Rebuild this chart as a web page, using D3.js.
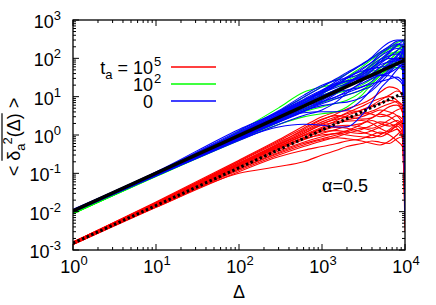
<!DOCTYPE html>
<html lang="en">
<head>
<meta charset="UTF-8">
<title>MSD ensemble</title>
<script src="https://cdnjs.cloudflare.com/ajax/libs/d3/7.8.5/d3.min.js"></script>
<style>
  body { margin: 0; background: #fff; }
  text { font-family: "Liberation Sans", Arial, sans-serif; fill: #000; }
</style>
</head>
<body>
<div id="chart"></div>
<script>
// lag times where each trajectory was sampled
var delta = [1, 10, 100, 300, 600, 1000, 1500, 2000, 3000, 4000, 5000, 6500, 8000, 9300, 10000];

// t_a = 10^5
var redRuns = [
  [.0016, .017, .2, .65, 1.3, 2.2, 3.0, 3.6, 4.5, 5.5, 6.8, 8, 7, 4, .2],
  [.0015, .016, .18, .55, 1.1, 1.8, 2.2, 2.5, 3.0, 3.8, 4.5, 4.0, 3.2, 2.0, .02],
  [.0015, .015, .15, .42, .75, 1.1, 1.4, 1.7, 2.0, 2.4, 2.0, 1.7, 1.9, 1.5, .005],
  [.0014, .014, .13, .35, .6, .8, 1.0, 1.2, 1.5, 1.3, 1.1, 1.3, 1.7, 1.2, .05],
  [.0016, .018, .22, .75, 1.7, 3.0, 4.0, 4.3, 4.0, 3.5, 3.0, 3.4, 4.5, 5, 1.5],
  [.0014, .013, .11, .27, .4, .5, .6, .7, .8, 1.0, 1.2, 1.0, .7, .5, .01],
  [.0015, .015, .16, .5, 1.0, 1.6, 2.4, 3.2, 4.5, 6, 8, 11, 14, 12, 4],
  [.0015, .015, .14, .38, .65, .9, 1.1, 1.0, .9, .85, 1.0, 1.4, 2.0, 2.4, .3],
  [.0014, .013, .1, .15, .2, .3, .4, .5, .6, .7, .65, .6, .8, .9, .01],
  [.0016, .017, .19, .6, 1.4, 2.5, 3.6, 4.8, 6.5, 9, 13, 18, 16, 10, .8],
  [.0015, .015, .17, .52, .95, 1.4, 1.7, 1.8, 1.6, 1.5, 1.8, 2.5, 3.2, 2.6, .1],
  [.0014, .014, .12, .3, .5, .7, .9, 1.1, 1.4, 1.8, 2.2, 2.0, 1.5, .8, .003],
  [.0016, .016, .18, .58, 1.2, 2.0, 2.6, 2.9, 3.4, 4.2, 5.2, 6.5, 7.5, 6, .5],
  [.0015, .016, .17, .48, .85, 1.2, 1.3, 1.2, 1.1, 1.3, 1.6, 2.0, 2.4, 1.8, .04],
  [.0015, .015, .16, .46, .8, 1.0, 1.1, 1.3, 1.9, 2.8, 3.5, 3.0, 2.2, 1.6, .008],
  [.0016, .017, .21, .7, 1.5, 2.6, 3.2, 3.0, 2.6, 2.8, 3.8, 5.5, 6, 4, .3],
  [.0014, .014, .13, .33, .55, .75, .85, .8, .7, .6, .55, .7, 1.0, 1.3, .02],
  [.0015, .016, .18, .56, 1.1, 1.9, 2.8, 3.8, 5.5, 7.5, 9, 10, 8, 5, .06],
  [.0015, .015, .15, .44, .85, 1.3, 1.6, 1.5, 1.2, 1.0, .9, 1.2, 1.8, 2.2, .004],
  [.0016, .016, .17, .5, .95, 1.5, 2.0, 2.3, 2.4, 2.0, 1.5, 1.2, 1.4, 1.0, .15]
];

// t_a = 10^2
var greenRuns = [
  [.0095, .1, 1.26, 5.1, 13, 18, 21.6, 27, 43, 72, 112, 186, 259, 286, 225],
  [.009, .088, .9, 2.97, 6.5, 11.7, 20, 32.4, 59, 94, 130, 174, 202, 185, 90],
  [.0092, .084, .765, 2.16, 4.3, 8.1, 14.9, 23.4, 37.8, 46.8, 49.5, 58, 86, 126, 27],
  [.0088, .086, .855, 2.43, 4.05, 5.4, 6.75, 8.1, 13.5, 25.2, 45, 81, 130, 126, 7.2],
  [.0094, .092, .99, 3.24, 6.75, 10.8, 15.5, 22.5, 40.5, 65, 94.5, 133, 144, 134, 54],
  [.009, .083, .72, 1.89, 2.97, 3.6, 4.05, 5.4, 10.8, 21.6, 36, 52, 58, 50, 13.5],
  [.0093, .092, 1.08, 4.05, 9.7, 18, 28.4, 39.6, 67.5, 101, 144, 197, 216, 218, 162],
  [.0089, .085, .81, 2.43, 5.1, 9, 12.2, 14.4, 20, 28.8, 40.5, 58, 79, 76, 1.8],
  [.0091, .09, .95, 3, 6, 9, 13, 18, 30, 50, 80, 120, 160, 190, 120],
  [.009, .087, .85, 2.5, 4.6, 7, 9, 11, 15, 22, 35, 60, 100, 110, 30],
  [.0092, .091, 1.0, 3.4, 7.5, 13, 19, 25, 33, 40, 55, 90, 140, 160, 80]
];

// t_a = 0
var blueRuns = [
  [.0115, .109, 1.4, 4.05, 9.7, 18, 29.7, 43, 70, 108, 171, 261, 302, 302, 270],
  [.011, .104, 1.08, 3.5, 7.6, 14.4, 25.6, 39.6, 67.5, 101, 144, 209, 281, 294, 135],
  [.0105, .095, .945, 2.97, 5.4, 8.1, 13.5, 21.6, 40.5, 68, 94, 116, 130, 101, 27],
  [.01, .085, .72, 1.89, 3.24, 4.5, 7.4, 12.6, 24.3, 39.6, 58.5, 87, 101, 84, 4.5],
  [.0105, .1, 1.03, 3.4, 7.0, 10.8, 14.9, 18, 29.7, 46.8, 72, 110, 158, 210, 180],
  [.0103, .09, .81, 2.3, 3.8, 4.05, 4.05, 4.5, 8.1, 16.2, 27, 46, 72, 50, 1.8],
  [.0105, .09, .765, 1.62, 1.9, 1.8, 1.62, 1.62, 3.24, 7.2, 15.8, 29, 50, 67, 9],
  [.0107, .103, 1.3, 4.3, 10.8, 19.8, 27, 30.6, 40.5, 58, 81, 139, 216, 277, 324],
  [.0105, .095, .9, 2.57, 4.6, 7.2, 10.1, 12.6, 17.6, 21.6, 24.8, 29, 32.4, 25, .18],
  [.0108, .1, .99, 3.24, 7.0, 13.5, 23, 32.4, 46, 54, 58.5, 64, 65, 59, 36],
  [.0102, .087, .765, 2.16, 4.05, 7.2, 12.2, 18, 32.4, 50, 67.5, 81, 86, 134, 216],
  [.0105, .097, .97, 3.1, 6.75, 12.6, 20, 25.2, 32.4, 36, 36, 35, 29, 21, .9],
  [.0101, .088, .81, 2.48, 5.4, 9.9, 15.5, 19.8, 27, 32.4, 43, 64, 94, 92, 54],
  [.0109, .106, 1.17, 3.78, 8.1, 12.6, 17.6, 22.5, 36.5, 58, 90, 151, 230, 235, 108],
  [.0104, .092, .855, 2.43, 4.3, 5.85, 6.75, 7.2, 9.45, 14.4, 22.5, 41, 72, 109, 4.5],
  [.0106, .095, .855, 2.7, 5.9, 11.7, 20, 30.6, 54, 79, 112, 157, 180, 168, 72],
  [.0112, .105, 1.2, 3.9, 8.5, 15, 22, 26, 30, 34, 48, 75, 120, 160, 40],
  [.0098, .088, .8, 2.2, 4.2, 6.5, 9, 11, 15, 19, 30, 52, 90, 150, 260],
  [.011, .1, 1.1, 3.6, 8, 14, 21, 30, 50, 80, 130, 190, 240, 200, 15],
  [.0101, .091, .88, 2.6, 4.9, 7.5, 10, 14, 22, 30, 36, 42, 55, 70, .01],
  [.0107, .099, 1.05, 3.3, 6.5, 10, 13, 15, 18, 25, 40, 70, 110, 150, 120],
  [.0103, .094, .92, 2.8, 5.6, 9.5, 15, 21, 35, 55, 80, 100, 95, 60, .006]
];

// power-law fits (end points)
var fitDelta = [1, 10000];
var upperFit = [0.0105, 90];
var lowerFit = [0.0015, 13];

var xTicks = [1, 10, 100, 1000, 10000];
var xExp = ["0", "1", "2", "3", "4"];
var yTicks = [1e-3, 1e-2, 1e-1, 1, 10, 100, 1000];
var yExp = ["-3", "-2", "-1", "0", "1", "2", "3"];

var legendSup = ["5", "2", ""];
var legendBase = ["10", "10", "0"];
var legendColors = ["#ff0000", "#00ff00", "#0000ff"];

var width = 436, height = 305;
var pLeft = 73, pRight = 405, pTop = 20, pBottom = 250;

var svg = d3.select("#chart").append("svg")
  .attr("width", width)
  .attr("height", height);

var x = d3.scaleLog().domain([1, 1e4]).range([pLeft, pRight]);
var y = d3.scaleLog().domain([1e-3, 1e3]).range([pBottom, pTop]);

svg.append("clipPath").attr("id", "clip")
  .append("rect")
  .attr("x", pLeft).attr("y", pTop)
  .attr("width", pRight - pLeft).attr("height", pBottom - pTop);

var plot = svg.append("g").attr("clip-path", "url(#clip)");

var line = d3.line()
  .x(function(d) { return x(d[0]); })
  .y(function(d) { return y(d[1]); })
  .curve(d3.curveMonotoneX);

function drawRuns(runs, color) {
  plot.append("g").selectAll("path")
    .data(runs)
    .enter()
    .append("path")
    .attr("d", function(r) { return line(r.map(function(v, i) { return [delta[i], v]; })); })
    .attr("fill", "none")
    .attr("stroke", color)
    .attr("stroke-width", 1.1);
}

drawRuns(redRuns, "#ff0000");
drawRuns(greenRuns, "#00ff00");
drawRuns(blueRuns, "#0000ff");

// fits
var fitLine = d3.line()
  .x(function(d) { return x(d[0]); })
  .y(function(d) { return y(d[1]); });

plot.append("path")
  .attr("d", fitLine(fitDelta.map(function(d, i) { return [d, upperFit[i]]; })))
  .attr("fill", "none")
  .attr("stroke", "#000")
  .attr("stroke-width", 3.5);

plot.append("path")
  .attr("d", fitLine(fitDelta.map(function(d, i) { return [d, lowerFit[i]]; })))
  .attr("fill", "none")
  .attr("stroke", "#000")
  .attr("stroke-width", 3)
  .attr("stroke-dasharray", "2.5,2.5");

// ticks
var minorX = [], minorY = [];
xTicks.slice(0, -1).forEach(function(t) {
  for (var k = 2; k < 10; k++) minorX.push(t * k);
});
yTicks.slice(0, -1).forEach(function(t) {
  for (var k = 2; k < 10; k++) minorY.push(t * k);
});

var ticks = svg.append("g").attr("stroke", "#000").attr("stroke-width", 1);
function xTick(v, len) {
  ticks.append("line").attr("x1", x(v)).attr("x2", x(v)).attr("y1", pBottom).attr("y2", pBottom - len);
  ticks.append("line").attr("x1", x(v)).attr("x2", x(v)).attr("y1", pTop).attr("y2", pTop + len);
}
function yTick(v, len) {
  ticks.append("line").attr("y1", y(v)).attr("y2", y(v)).attr("x1", pLeft).attr("x2", pLeft + len);
  ticks.append("line").attr("y1", y(v)).attr("y2", y(v)).attr("x1", pRight).attr("x2", pRight - len);
}
xTicks.forEach(function(v) { xTick(v, 6); });
minorX.forEach(function(v) { xTick(v, 3); });
yTicks.forEach(function(v) { yTick(v, 6); });
minorY.forEach(function(v) { yTick(v, 3); });

svg.append("rect")
  .attr("x", pLeft).attr("y", pTop)
  .attr("width", pRight - pLeft).attr("height", pBottom - pTop)
  .attr("fill", "none")
  .attr("stroke", "#000")
  .attr("stroke-width", 1.3);

// tick labels
xTicks.forEach(function(v, i) {
  var t = svg.append("text")
    .attr("x", x(v) + 1).attr("y", 273)
    .attr("text-anchor", "middle")
    .style("font-size", "18px");
  t.append("tspan").text("10");
  t.append("tspan").attr("dy", -8).style("font-size", "13px").text(xExp[i]);
});

yTicks.forEach(function(v, i) {
  var t = svg.append("text")
    .attr("x", 61).attr("y", y(v) + 8)
    .attr("text-anchor", "end")
    .style("font-size", "18px");
  t.append("tspan").text("10");
  t.append("tspan").attr("dy", -8).style("font-size", "13px").text(yExp[i]);
});

// axis titles
svg.append("text")
  .attr("x", (pLeft + pRight) / 2).attr("y", 298)
  .attr("text-anchor", "middle")
  .style("font-size", "18px")
  .text("Δ");

var yl = svg.append("text")
  .attr("transform", "translate(20,137) rotate(-90)")
  .attr("text-anchor", "middle")
  .style("font-size", "18px");
yl.append("tspan").text("< δ");
yl.append("tspan").attr("dy", 5).style("font-size", "13px").text("a");
yl.append("tspan").attr("dy", -13).attr("dx", -1).style("font-size", "13px").text("2");
yl.append("tspan").attr("dy", 8).text("(Δ) >");

var node = yl.node();
var s0 = node.getStartPositionOfChar(2).x;
var s1 = node.getEndPositionOfChar(7).x;
svg.append("line")
  .attr("transform", "translate(20,137) rotate(-90)")
  .attr("x1", s0).attr("x2", s1)
  .attr("y1", -18).attr("y2", -18)
  .attr("stroke", "#000")
  .attr("stroke-width", 1.2);

// legend
legendBase.forEach(function(b, i) {
  var by = 74 + i * 17;
  var t = svg.append("text")
    .attr("x", 153).attr("y", by)
    .attr("text-anchor", "end")
    .style("font-size", "18px");
  if (i === 0) {
    t.append("tspan").text("t");
    t.append("tspan").attr("dy", 5).style("font-size", "13px").text("a");
    t.append("tspan").attr("dy", -5).text(" = " + b);
  } else {
    t.text(b);
  }
  if (legendSup[i]) {
    svg.append("text")
      .attr("x", 154).attr("y", by - 8)
      .style("font-size", "13px")
      .text(legendSup[i]);
  }
  svg.append("line")
    .attr("x1", 171).attr("x2", 216)
    .attr("y1", by - 7).attr("y2", by - 7)
    .attr("stroke", legendColors[i])
    .attr("stroke-width", 1.3);
});

svg.append("text")
  .attr("x", 322).attr("y", 192)
  .style("font-size", "18px")
  .text("α=0.5");
</script>
</body>
</html>
